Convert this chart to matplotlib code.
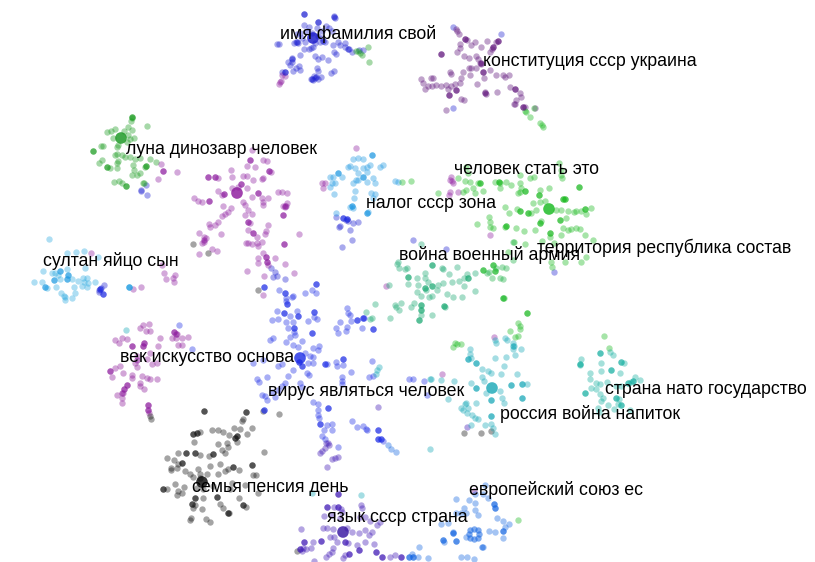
import matplotlib
matplotlib.use("Agg")
import matplotlib.pyplot as plt

plt.rcParams['font.family'] = ['Liberation Sans', 'DejaVu Sans']

# topic labels
label_texts = ["имя фамилия свой", "конституция ссср украина", "луна динозавр человек",
               "человек стать это", "налог ссср зона", "территория республика состав",
               "война военный армия", "султан яйцо сын", "век искусство основа",
               "вирус являться человек", "страна нато государство", "россия война напиток",
               "семья пенсия день", "европейский союз ес", "язык ссср страна"]
label_x = [280, 483, 126, 454, 366, 537, 399, 43, 120, 268, 605, 500, 192, 469, 327]
label_y = [34, 62, 149, 170, 204, 248, 255, 261, 357, 391, 390, 414, 487, 490, 518]

# documents, by topic colour
name_blue = [(304,14),(334,16),(335,18),(318,22),(304,25),(309,27),(317,28),(326,26),(329,28),(332,31),(307,31),(312,33),(322,31),(300,33),(297,34),(302,38),(318,36),(322,38),(320,42),(325,42),(315,43),(305,42),(296,42),(279,44),(277,44),(294,43),(298,43),(333,45),(340,45),(345,43),(338,42),(345,47),(349,49),(352,52),(359,50),(363,50),(334,52),(336,54),(311,48),(304,49),(309,49),(313,47),(300,55),(315,56),(318,59),(322,57),(292,58),(292,62),(290,65),(288,62),(296,68),(299,66),(300,70),(293,71),(285,72),(282,72),(317,68),(318,71),(314,76),(321,77),(311,79),(315,78),(331,73),(334,71),(313,80),(318,79),(328,60),(453,27),(501,34),(453,108),(146,185),(141,191),(147,195),(141,190),(271,268),(275,272),(277,276),(285,279),(273,277),(336,217),(343,218),(347,219),(348,221),(353,223),(358,222),(339,227),(350,230),(352,240),(342,247),(340,226),(346,220),(99,290),(104,285),(100,289),(99,292),(103,294),(101,288),(413,240),(446,249),(554,272)]
constitution_purple = [(456,29),(457,31),(459,34),(465,39),(467,40),(471,45),(475,42),(487,41),(498,41),(496,42),(493,47),(492,49),(460,44),(460,48),(457,52),(441,54),(464,56),(469,58),(476,56),(478,59),(481,47),(490,52),(480,63),(481,64),(483,72),(484,78),(476,68),(471,68),(469,68),(463,72),(450,72),(451,74),(470,75),(461,78),(460,83),(455,84),(451,86),(446,85),(441,86),(436,85),(432,86),(428,86),(423,83),(421,79),(431,78),(433,78),(425,89),(448,89),(456,90),(449,95),(461,99),(464,100),(446,110),(477,84),(485,92),(486,94),(497,92),(496,75),(503,75),(505,77),(509,75),(490,70),(510,87),(515,89),(520,93),(521,97),(516,100),(514,104),(515,104),(523,107),(525,107),(535,108)]
moon_green = [(132,117),(132,118),(131,121),(128,127),(115,129),(111,131),(107,132),(124,131),(132,130),(128,135),(147,126),(113,138),(134,138),(130,139),(118,145),(117,147),(127,142),(101,146),(103,146),(93,151),(117,154),(115,155),(122,155),(125,157),(130,157),(135,159),(140,158),(150,159),(156,162),(146,166),(145,167),(133,165),(134,170),(117,163),(118,161),(102,160),(99,163),(107,167),(110,168),(117,168),(132,175),(137,175),(140,173),(114,182),(119,181),(122,183),(126,186),(143,183),(144,183),(358,51),(360,53),(362,55),(368,47),(369,62),(356,51)]
dino_purple = [(252,150),(250,160),(263,160),(267,161),(247,166),(255,167),(269,171),(271,172),(231,170),(232,177),(243,176),(247,176),(208,177),(215,177),(218,178),(241,184),(238,187),(253,180),(262,179),(263,178),(232,188),(247,188),(218,191),(224,194),(222,195),(258,193),(282,192),(287,193),(278,192),(252,197),(262,198),(268,198),(263,202),(194,198),(198,201),(202,202),(209,201),(223,206),(231,208),(243,202),(245,205),(263,205),(248,210),(252,214),(245,215),(287,203),(283,206),(286,206),(285,207),(228,212),(225,214),(222,216),(283,215),(248,222),(250,223),(218,222),(215,225),(210,227),(209,224),(268,225),(248,230),(253,233),(266,231),(265,234),(199,233),(221,234),(204,237),(206,238),(204,242),(202,243),(299,234),(257,237),(246,243),(248,243),(252,244),(257,243),(262,242),(258,246),(284,244),(212,249),(217,251),(199,254),(263,253),(266,257),(258,258),(275,258),(258,263),(267,262),(268,265),(285,264),(247,271),(264,276),(294,273),(161,164),(163,171),(177,172),(158,179),(356,148),(322,183),(325,183),(323,188),(282,75),(285,76),(279,84),(281,81),(280,82),(451,177),(450,180),(453,183),(452,181),(450,192),(449,195),(458,192),(490,235),(91,253),(133,289),(141,287),(162,265),(164,273),(166,279),(175,275),(173,278),(174,282),(263,295),(386,286),(494,337),(442,374),(474,491)]
tax_cyan = [(372,155),(353,159),(358,158),(363,159),(350,166),(348,167),(355,168),(363,168),(367,167),(370,165),(383,165),(380,167),(358,173),(367,172),(338,173),(330,177),(333,177),(342,177),(363,177),(373,178),(358,180),(356,180),(353,183),(367,182),(375,183),(332,183),(335,183),(330,187),(355,191),(334,194),(371,193),(375,194),(373,198),(354,198),(352,206),(350,207),(353,208),(367,213),(368,212),(336,213),(395,181),(398,182)]
sultan_cyan = [(49,239),(67,253),(76,252),(84,251),(98,257),(85,268),(43,271),(52,273),(55,273),(60,271),(67,269),(68,275),(58,275),(54,280),(60,279),(67,279),(72,279),(78,281),(83,278),(87,278),(95,282),(34,282),(42,282),(45,287),(47,288),(56,287),(61,293),(64,296),(65,300),(72,298),(75,293),(74,287),(82,286),(87,287),(84,282),(88,283),(65,297),(129,287),(129,287)]
human_green = [(559,163),(561,170),(561,175),(562,178),(466,167),(468,173),(458,178),(465,181),(470,182),(480,183),(478,183),(495,182),(499,182),(500,183),(506,182),(511,185),(520,183),(521,188),(525,191),(530,178),(534,177),(520,175),(579,187),(549,188),(540,190),(539,195),(466,190),(463,192),(473,188),(475,193),(483,191),(500,188),(520,192),(518,193),(411,181),(438,193),(563,199),(565,199),(540,202),(545,201),(533,203),(505,207),(517,209),(520,211),(509,213),(528,213),(531,213),(536,210),(556,210),(561,210),(568,211),(574,212),(576,211),(581,211),(585,209),(591,208),(586,214),(489,217),(490,222),(490,227),(493,228),(477,224),(506,226),(505,227),(516,228),(524,231),(535,230),(540,223),(541,221),(560,220),(566,218),(563,228),(568,230),(571,229),(576,228),(580,229),(550,233),(550,237),(561,235),(585,235),(593,240),(542,241),(514,242),(525,244),(554,243),(586,257),(581,262),(565,262),(551,262),(552,267),(508,252),(402,182),(525,111),(530,117),(534,108),(540,123),(542,125),(543,127),(526,112),(518,323),(520,326),(520,329),(518,336),(515,337),(510,331),(527,313),(504,298),(455,343),(461,344),(453,347),(457,344),(604,336),(609,348),(518,520)]
war_teal = [(421,244),(398,262),(397,264),(399,268),(405,269),(407,268),(432,265),(443,269),(457,267),(442,268),(408,277),(408,284),(417,278),(425,273),(425,278),(428,282),(418,285),(417,292),(425,288),(426,290),(432,286),(437,290),(438,285),(443,283),(449,274),(452,282),(459,281),(464,278),(468,278),(467,274),(475,273),(464,286),(475,291),(447,294),(453,297),(462,297),(421,296),(429,297),(432,296),(395,305),(396,307),(401,303),(399,310),(411,307),(414,303),(421,305),(421,310),(421,315),(419,320),(432,315),(444,306),(445,307),(375,304),(366,312),(372,318),(370,319),(390,318),(389,285)]
war_green = [(483,270),(487,273),(493,265),(495,271),(492,278),(500,278),(503,279),(502,267),(506,268),(513,260),(503,298),(513,242),(489,272),(496,268)]
century_purple = [(149,324),(143,325),(140,328),(146,331),(150,331),(174,332),(177,334),(176,338),(172,338),(182,338),(188,337),(160,338),(115,340),(119,343),(122,338),(127,339),(132,346),(144,343),(143,346),(158,346),(178,345),(182,345),(137,356),(150,353),(147,359),(120,366),(115,368),(110,371),(112,377),(123,373),(132,375),(135,363),(137,367),(152,364),(157,363),(142,376),(147,378),(150,379),(157,379),(132,378),(140,383),(140,386),(144,389),(127,385),(124,389),(123,393),(117,395),(122,398),(122,403),(148,405),(148,410),(149,413)]
family_black = [(204,411),(246,412),(243,419),(242,421),(234,428),(252,428),(240,429),(212,430),(218,430),(223,432),(229,435),(247,434),(237,436),(235,438),(193,434),(197,433),(200,432),(194,442),(218,444),(227,443),(237,442),(228,447),(222,450),(225,453),(264,452),(178,453),(186,453),(195,453),(200,455),(213,454),(209,456),(167,458),(174,460),(182,463),(178,464),(177,468),(171,468),(171,470),(252,465),(220,464),(233,467),(228,469),(225,471),(239,470),(210,466),(198,469),(185,471),(190,474),(193,477),(200,474),(207,474),(218,474),(253,475),(256,475),(200,478),(175,484),(184,487),(232,483),(245,485),(163,489),(167,489),(178,491),(182,493),(177,495),(197,488),(203,489),(213,486),(258,493),(230,489),(217,497),(195,498),(203,498),(192,504),(195,505),(193,508),(202,509),(220,504),(239,498),(243,505),(246,507),(223,508),(228,513),(229,513),(191,518),(190,520),(206,519),(210,522),(150,416),(151,419),(193,244),(208,253),(258,290),(263,411),(279,414),(297,551),(464,433),(481,433),(491,431)]
virus_blue = [(264,287),(279,290),(316,284),(285,293),(292,297),(293,296),(286,298),(287,304),(286,301),(305,293),(312,290),(316,293),(277,311),(284,313),(290,316),(297,311),(298,316),(272,320),(278,319),(286,322),(293,322),(294,328),(294,332),(308,321),(314,312),(314,317),(317,319),(312,333),(288,328),(290,337),(295,335),(273,338),(270,340),(286,342),(302,341),(293,345),(298,347),(319,346),(318,350),(313,348),(305,353),(310,356),(313,357),(299,362),(302,366),(253,363),(263,360),(282,364),(278,366),(308,363),(313,363),(293,370),(288,376),(307,373),(309,375),(285,383),(282,386),(257,379),(259,382),(267,377),(300,383),(302,387),(325,364),(327,364),(336,362),(337,366),(343,359),(343,365),(351,372),(342,377),(342,381),(342,384),(265,396),(262,395),(267,400),(275,397),(272,392),(278,390),(264,410),(313,402),(318,404),(318,410),(318,415),(319,418),(320,424),(328,408),(327,425),(332,424),(324,430),(332,430),(322,436),(325,439),(338,447),(347,308),(348,313),(350,315),(340,322),(351,321),(357,320),(363,318),(364,318),(336,328),(338,333),(347,327),(346,331),(362,328),(373,329),(372,361),(369,377),(373,376),(352,421),(357,427),(363,426),(366,429),(367,430),(378,430),(378,439),(381,439),(383,441),(409,379),(413,379),(424,381),(427,395),(179,325),(192,349)]
language_violet = [(338,494),(327,507),(334,507),(338,507),(341,509),(342,512),(361,505),(362,508),(324,516),(332,515),(340,518),(360,517),(365,517),(370,521),(323,528),(327,528),(333,529),(359,533),(365,530),(372,532),(377,525),(380,522),(301,529),(347,528),(352,532),(369,535),(330,537),(334,537),(337,542),(321,541),(313,542),(304,542),(345,542),(348,543),(357,545),(365,542),(374,544),(359,550),(303,548),(300,549),(306,549),(302,551),(311,548),(333,548),(332,552),(329,554),(326,557),(345,555),(349,554),(343,558),(376,552),(382,557),(390,557),(395,555),(401,557),(314,561),(328,443),(326,443),(329,445),(325,448),(322,451),(320,453),(332,459),(335,458),(338,457),(327,467),(378,407),(467,427)]
europe_blue = [(388,445),(391,449),(396,452),(409,557),(413,557),(418,557),(412,554),(419,547),(428,558),(443,540),(444,542),(453,532),(456,541),(466,537),(483,547),(489,531),(495,532),(503,531),(503,538),(505,527),(509,524),(497,518),(503,521),(456,499),(469,500),(475,503),(475,494),(485,485),(483,494),(488,498),(494,504),(495,508),(464,508),(456,513),(461,513),(466,513),(475,510),(478,515),(448,523),(441,524),(453,533),(461,557),(467,557),(474,559)]
russia_teal = [(496,343),(495,340),(505,338),(507,340),(513,343),(514,346),(513,349),(521,349),(506,357),(515,355),(470,349),(470,354),(468,359),(471,358),(476,363),(495,358),(504,366),(482,369),(488,371),(491,373),(501,374),(517,374),(482,377),(484,381),(471,383),(511,385),(522,384),(527,384),(476,388),(500,391),(486,393),(522,398),(491,400),(502,398),(504,403),(476,403),(466,403),(465,404),(461,408),(468,408),(463,410),(467,413),(472,415),(475,418),(478,419),(491,416),(471,425),(485,425),(491,424),(493,428),(495,434),(448,399),(430,379),(441,380),(454,381),(431,379),(377,370),(376,374),(379,367),(126,330),(361,495),(312,493),(430,449)]
country_teal = [(600,353),(610,352),(613,355),(581,359),(580,364),(580,365),(601,363),(621,362),(624,363),(611,370),(601,371),(620,373),(590,373),(635,377),(640,380),(633,381),(590,379),(607,382),(596,383),(600,384),(628,383),(631,382),(616,386),(621,386),(591,388),(596,389),(585,393),(600,394),(603,398),(601,401),(616,398),(619,399),(618,404),(608,405),(598,408),(614,409),(630,410),(621,405),(599,412)]

# documents that read darker than their neighbours
name_strong = [(318,22),(304,14),(334,17),(323,41),(297,42),(312,79),(316,77),(285,72),(292,59),(348,49)]
constitution_strong = [(441,54),(498,41),(493,47),(481,63),(483,72),(465,39),(485,93),(515,89),(456,90),(449,95),(523,107)]
moon_strong = [(132,117),(93,151),(126,186),(146,166),(107,167)]
dino_strong = [(163,171),(269,171),(250,160),(215,177),(224,194),(208,177),(241,184),(258,193),(209,201),(248,222),(253,233),(283,215),(284,244),(204,240),(285,206),(266,257),(267,262),(176,334),(174,332),(148,405),(148,410),(122,393),(110,371),(137,360),(132,346),(144,343),(143,346),(124,389),(127,385)]
tax_strong = [(372,155),(363,177),(338,173),(352,206),(367,213),(60,271),(129,287),(54,280),(67,279),(68,275),(45,287)]
virus_strong = [(285,293),(287,304),(316,284),(264,287),(284,313),(298,316),(294,328),(314,312),(312,333),(299,362),(302,366),(325,364),(343,359),(328,408),(320,424),(357,320),(363,318),(378,430),(378,439),(381,439),(264,410),(373,329),(343,218),(347,219),(100,289),(103,294)]
human_strong = [(579,187),(563,199),(565,199),(520,211),(528,213),(540,223),(560,220),(506,226),(585,209),(480,183),(499,182),(525,191),(539,195),(550,233),(493,265),(495,271),(483,270),(503,298),(527,313)]
war_strong = [(425,288),(432,265),(432,286),(444,306),(408,277),(421,305),(421,310),(419,320),(468,278)]
family_strong = [(204,411),(246,412),(237,436),(235,438),(197,433),(193,434),(195,453),(186,453),(213,454),(252,465),(217,497),(228,513),(195,498),(192,504),(163,489),(233,467),(243,505),(182,463)]
language_strong = [(327,507),(338,507),(338,494),(321,541),(304,542),(300,549),(345,542),(401,557),(382,557),(376,552),(359,550),(349,554)]
europe_strong = [(456,541),(453,533),(494,504),(495,508),(503,531),(409,557),(413,557),(443,540),(482,547)]
russia_strong = [(476,363),(511,385),(522,384),(522,398),(491,400),(491,416),(468,359),(476,388),(513,346)]
country_strong = [(600,353),(580,364),(611,370),(621,362),(628,383),(633,381),(585,393),(616,398),(621,405)]
europe_ring = [(474,529),(478,530),(479,534),(478,538),(474,539),(470,538),(469,534),(470,530)]

# the single dominant document of each topic
hub_x = [313, 121, 237, 549, 300, 202, 343, 492]
hub_y = [38, 138, 193, 209, 358, 482, 532, 388]
hub_colors = ['#1212c8', '#12941a', '#8a149a', '#12b81a', '#1a2ae6', '#000000', '#32109f', '#16a6b6']

BLUE, PURPLE, GREEN, DINO = '#1c1fd2', '#5b0d78', '#169a1c', '#8c1a9e'
CYAN, LIME, TEAL, BLACK = '#1a96e2', '#16b81c', '#16a870', '#111111'
VIRUS, VIOLET, EURO, RUSSIA, COUNTRY = '#1a2ae6', '#3a12b4', '#1264e2', '#12a6b6', '#12aea0'

groups = [(name_blue, BLUE), (constitution_purple, PURPLE), (moon_green, GREEN),
          (dino_purple, DINO), (tax_cyan, CYAN), (sultan_cyan, '#2aa9e0'),
          (human_green, LIME), (war_teal, TEAL), (war_green, '#16b040'),
          (century_purple, '#8a1496'), (family_black, BLACK), (virus_blue, VIRUS),
          (language_violet, VIOLET), (europe_blue, EURO), (russia_teal, RUSSIA),
          (country_teal, COUNTRY)]
strong_groups = [(name_strong, BLUE), (constitution_strong, PURPLE), (moon_strong, GREEN),
                 (dino_strong, DINO), (tax_strong, CYAN), (virus_strong, VIRUS),
                 (human_strong, LIME), (war_strong, TEAL), (family_strong, BLACK),
                 (language_strong, VIOLET), (europe_strong, EURO), (russia_strong, RUSSIA),
                 (country_strong, COUNTRY), (europe_ring, EURO)]

fig = plt.figure(figsize=(8.15, 5.62), dpi=100)
ax = fig.add_axes([0, 0, 1, 1])
ax.set_xlim(0, 815)
ax.set_ylim(562, 0)
ax.axis('off')

for pts, color in groups:
    ax.scatter([p[0] for p in pts], [p[1] for p in pts], s=21, c=color, alpha=0.38, linewidths=0)
for pts, color in strong_groups:
    ax.scatter([p[0] for p in pts], [p[1] for p in pts], s=21, c=color, alpha=0.55, linewidths=0)
ax.scatter(hub_x, hub_y, s=70, c=hub_colors, alpha=0.8, linewidths=0)

for t, x, y in zip(label_texts, label_x, label_y):
    ax.text(x, y, t, fontsize=12.8, color='black', ha='left', va='center', zorder=5)

fig.savefig('out.png', dpi=100)
